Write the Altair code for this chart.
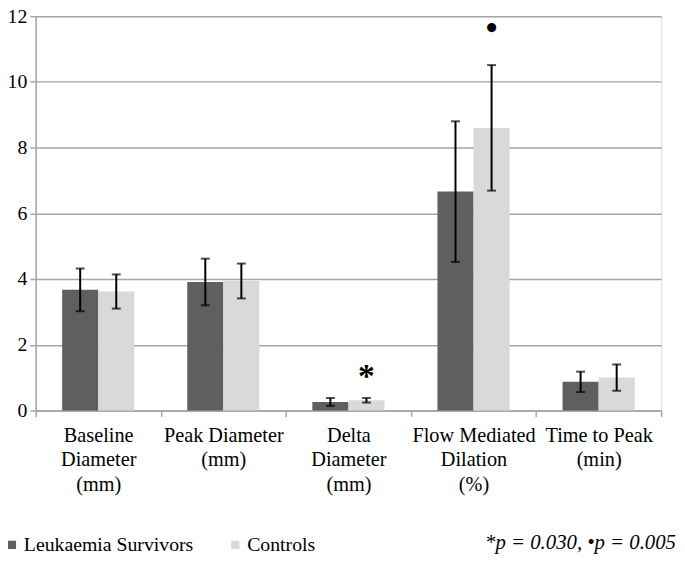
import altair as alt
import pandas as pd

categories = [
    "Baseline\nDiameter\n(mm)",
    "Peak Diameter\n(mm)",
    "Delta\nDiameter\n(mm)",
    "Flow Mediated\nDilation\n(%)",
    "Time to Peak\n(min)",
]
groups = ["Leukaemia Survivors", "Controls"]
survivor_means = [3.67, 3.91, 0.26, 6.66, 0.87]
survivor_err = [0.65, 0.71, 0.12, 2.14, 0.31]
control_means = [3.62, 3.94, 0.31, 8.60, 1.00]
control_err = [0.52, 0.53, 0.07, 1.91, 0.40]

marker_categories = [categories[2], categories[3]]
marker_groups = ["Controls", "Controls"]
marker_symbols = ["*", "•"]
marker_values = [1.0, 11.62]

y_ticks = [0, 2, 4, 6, 8, 10, 12]
footnote = ["*p = 0.030, •p = 0.005"]

rows = []
for c, m, e in zip(categories, survivor_means, survivor_err):
    rows.append({"Category": c, "Group": groups[0], "Value": m, "Low": m - e, "High": m + e})
for c, m, e in zip(categories, control_means, control_err):
    rows.append({"Category": c, "Group": groups[1], "Value": m, "Low": m - e, "High": m + e})
df = pd.DataFrame(rows)

mk = pd.DataFrame({
    "Category": marker_categories,
    "Group": marker_groups,
    "Symbol": marker_symbols,
    "Value": marker_values,
})
fn = pd.DataFrame({"Note": footnote})

FONT = "Liberation Serif"
GRID = "#a6a6a6"

x_enc = alt.X(
    "Category:N",
    sort=categories,
    title=None,
    scale=alt.Scale(paddingInner=0, paddingOuter=0),
    axis=alt.Axis(
        labelExpr="split(datum.label, '\\n')",
        labelAngle=0,
        labelAlign="center",
        labelBaseline="top",
        labelFont=FONT,
        labelFontSize=20.5,
        labelLineHeight=25,
        labelColor="black",
        labelPadding=9,
        labelLimit=0,
        tickBand="extent",
        tickSize=6,
        tickColor=GRID,
        tickWidth=1.5,
        domainColor=GRID,
        domainWidth=1.5,
        grid=False,
    ),
)
xo_enc = alt.XOffset(
    "Group:N",
    sort=groups,
    scale=alt.Scale(paddingInner=0, paddingOuter=0.734),
)
y_scale = alt.Scale(domain=[0, 12], nice=False)

bars = alt.Chart(df).mark_bar().encode(
    x=x_enc,
    xOffset=xo_enc,
    y=alt.Y(
        "Value:Q",
        scale=y_scale,
        title=None,
        axis=alt.Axis(
            values=y_ticks,
            grid=True,
            gridColor=GRID,
            gridWidth=1.5,
            domainColor=GRID,
            domainWidth=1.5,
            tickColor=GRID,
            tickWidth=1.5,
            tickSize=6,
            labelFont=FONT,
            labelFontSize=20,
            labelColor="black",
            labelPadding=3,
        ),
    ),
    color=alt.Color(
        "Group:N",
        sort=groups,
        scale=alt.Scale(domain=groups, range=["#5f5f5f", "#d9d9d9"]),
        legend=alt.Legend(
            title=None,
            orient="none",
            legendX=-34,
            legendY=525,
            padding=0,
            direction="horizontal",
            symbolType="square",
            symbolSize=70,
            symbolStrokeWidth=0,
            labelFont=FONT,
            labelFontSize=20,
            labelColor="black",
            labelOffset=2,
            labelLimit=0,
            columnPadding=32,
        ),
    ),
)

rules = alt.Chart(df).mark_rule(color="black", strokeWidth=2).encode(
    x=alt.X("Category:N", sort=categories),
    xOffset=alt.XOffset("Group:N", sort=groups),
    y=alt.Y("Low:Q", scale=y_scale),
    y2="High:Q",
)

caps_hi = alt.Chart(df).mark_tick(color="black", thickness=2, size=9, orient="horizontal").encode(
    x=alt.X("Category:N", sort=categories),
    xOffset=alt.XOffset("Group:N", sort=groups),
    y=alt.Y("High:Q", scale=y_scale),
)
caps_lo = alt.Chart(df).mark_tick(color="black", thickness=2, size=9, orient="horizontal").encode(
    x=alt.X("Category:N", sort=categories),
    xOffset=alt.XOffset("Group:N", sort=groups),
    y=alt.Y("Low:Q", scale=y_scale),
)

markers = alt.Chart(mk).mark_text(
    font=FONT, fontSize=34, fontWeight="bold", color="black", baseline="middle", align="center"
).encode(
    x=alt.X("Category:N", sort=categories),
    xOffset=alt.XOffset("Group:N", sort=groups),
    y=alt.Y("Value:Q", scale=y_scale),
    text="Symbol:N",
)

note = alt.Chart(fn).mark_text(
    font=FONT, fontSize=21, fontStyle="italic", color="black", align="right", baseline="middle"
).encode(
    x=alt.value(648),
    y=alt.value(533),
    text="Note:N",
)

chart = alt.layer(bars, rules, caps_hi, caps_lo, markers, note).properties(
    width=633,
    height=399,
    autosize=alt.AutoSizeParams(type="none"),
    padding={"left": 28, "top": 5, "right": 16, "bottom": 142},
).configure_view(stroke=None).configure(background="white")

chart.save("out.html", embed_options={"renderer": "svg", "actions": False})
